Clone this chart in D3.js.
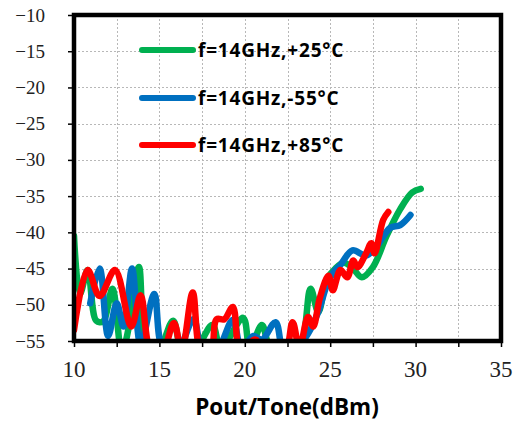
<!DOCTYPE html>
<html>
<head>
<meta charset="utf-8">
<script src="https://cdn.jsdelivr.net/npm/d3@7/dist/d3.min.js"></script>
<style>
  html, body { margin: 0; padding: 0; background: #fff; }
  svg { display: block; }
</style>
</head>
<body>
<svg id="chart" width="518" height="422"></svg>
<script>
// Pout/Tone sweep (dBm)
const xGreen = [10.0, 10.35, 10.8, 11.3, 11.7, 12.25, 12.8, 13.3, 13.8, 14.3, 14.9, 15.8, 16.3, 17.0, 18.1, 18.6, 19.9, 20.3, 21.0, 21.5, 22.3, 23.2, 23.85, 24.3, 24.8, 25.3, 25.8, 26.3, 26.85, 27.5, 28.3, 29.1, 29.8, 30.3];
const yGreen = [-40.5, -48.5, -45.2, -52.2, -52.3, -47.8, -56.5, -52.0, -44.8, -56.0, -56.5, -52.2, -56.0, -56.5, -52.8, -56.0, -51.8, -56.0, -52.8, -56.0, -56.5, -56.0, -47.8, -51.0, -46.5, -45.0, -44.2, -44.9, -46.2, -44.8, -40.5, -36.8, -34.5, -34.0];

const xBlue = [10.95, 11.5, 12.0, 12.5, 12.9, 13.4, 13.9, 14.7, 15.2, 16.0, 17.0, 17.5, 18.3, 19.3, 19.8, 20.5, 21.0, 21.8, 22.3, 23.0, 23.7, 24.3, 24.8, 25.2, 25.6, 26.3, 27.1, 27.7, 28.5, 29.1, 29.7];
const yBlue = [-49.8, -45.0, -54.3, -49.8, -53.0, -45.0, -55.5, -48.5, -56.0, -56.5, -52.0, -56.0, -56.5, -52.1, -56.0, -54.3, -54.8, -52.4, -56.5, -56.0, -54.0, -51.0, -47.3, -45.5, -44.5, -42.5, -43.2, -42.0, -39.4, -39.0, -37.6];

const xRed = [10.0, 10.8, 11.5, 12.4, 13.35, 13.9, 14.5, 15.1, 15.85, 16.3, 16.95, 17.45, 18.0, 18.35, 18.8, 19.3, 19.75, 20.6, 21.3, 22.3, 22.8, 23.2, 23.7, 24.0, 24.4, 24.9, 25.15, 25.6, 26.0, 26.35, 26.6, 27.1, 27.4, 27.6, 28.1, 28.4];
const yRed = [-53.5, -45.2, -48.8, -45.2, -53.0, -48.7, -56.5, -57.0, -52.5, -56.5, -48.3, -56.5, -56.5, -52.0, -52.0, -50.3, -56.5, -54.8, -57.0, -57.0, -52.4, -56.0, -51.7, -53.0, -49.0, -46.0, -48.0, -45.2, -46.2, -43.9, -44.8, -42.9, -41.5, -42.9, -38.3, -37.2];

const seriesNames = ["f=14GHz,+25°C", "f=14GHz,-55°C", "f=14GHz,+85°C"];
const seriesColors = ["#00B050", "#0070C0", "#FF0000"];

const xTicks = [10, 15, 20, 25, 30, 35];
const xGrid = [12.5, 15, 17.5, 20, 22.5, 25, 27.5, 30, 32.5];
const xMinor = [10, 12.5, 15, 17.5, 20, 22.5, 25, 27.5, 30, 32.5, 35];
const yTicks = [-10, -15, -20, -25, -30, -35, -40, -45, -50, -55];
const xTitle = "Pout/Tone(dBm)";

const series = [
  { name: seriesNames[0], color: seriesColors[0], pts: xGreen.map((x, i) => [x, yGreen[i]]) },
  { name: seriesNames[1], color: seriesColors[1], pts: xBlue.map((x, i) => [x, yBlue[i]]) },
  { name: seriesNames[2], color: seriesColors[2], pts: xRed.map((x, i) => [x, yRed[i]]) }
];

const L = 74, R = 501, T = 15, B = 341;
const svg = d3.select("#chart");
const x = d3.scaleLinear().domain([10, 35]).range([L, R]);
const y = d3.scaleLinear().domain([-55, -10]).range([B, T]);

svg.append("rect").attr("width", 518).attr("height", 422).attr("fill", "#fff");

// grid
const grid = svg.append("g").attr("stroke", "#b8b8b8").attr("stroke-width", 1).attr("stroke-dasharray", "2,2");
grid.selectAll("line.gx").data(xGrid).join("line")
  .attr("x1", d => Math.round(x(d)) + 0.5).attr("x2", d => Math.round(x(d)) + 0.5)
  .attr("y1", T).attr("y2", B);
grid.selectAll("line.gy").data(yTicks.filter(v => v > -55 && v < -10)).join("line")
  .attr("y1", d => Math.round(y(d)) + 0.5).attr("y2", d => Math.round(y(d)) + 0.5)
  .attr("x1", L).attr("x2", R);

// data lines
svg.append("clipPath").attr("id", "plotclip").append("rect")
  .attr("x", L).attr("y", T).attr("width", R - L).attr("height", B - T);
const line = d3.line().x(d => x(d[0])).y(d => y(d[1])).curve(d3.curveCatmullRom.alpha(0.5));
svg.append("g").attr("clip-path", "url(#plotclip)")
  .selectAll("path").data(series).join("path")
  .attr("d", d => line(d.pts))
  .attr("fill", "none").attr("stroke", d => d.color)
  .attr("stroke-width", 6.5).attr("stroke-linejoin", "round").attr("stroke-linecap", "round");

// axes
const xAxis = d3.axisBottom(x).tickValues(xMinor).tickSize(6).tickFormat("");
svg.append("g").attr("transform", `translate(0,${B})`).call(xAxis)
  .call(g => g.select(".domain").remove())
  .call(g => g.selectAll("line").attr("stroke", "#000").attr("stroke-width", 1.5));
const yAxis = d3.axisLeft(y).tickValues(yTicks).tickSize(6).tickFormat("");
svg.append("g").attr("transform", `translate(${L},0)`).call(yAxis)
  .call(g => g.select(".domain").remove())
  .call(g => g.selectAll("line").attr("stroke", "#000").attr("stroke-width", 1.5));

// frame
svg.append("rect").attr("x", L).attr("y", T).attr("width", R - L).attr("height", B - T)
  .attr("fill", "none").attr("stroke", "#000").attr("stroke-width", 4.5);

// tick labels
svg.append("g").selectAll("text").data(yTicks).join("text")
  .attr("x", 45).attr("y", d => y(d) + 6.5)
  .attr("text-anchor", "end")
  .attr("font-family", "'Liberation Serif', 'DejaVu Serif', serif")
  .attr("font-size", 19).attr("fill", "#222")
  .text(d => d3.format("")(d).replace("-", "\u2212"));
svg.append("g").selectAll("text").data(xTicks).join("text")
  .attr("x", d => x(d)).attr("y", 377)
  .attr("text-anchor", "middle")
  .attr("font-family", "'Liberation Serif', 'DejaVu Serif', serif")
  .attr("font-size", 23).attr("fill", "#222")
  .text(d => d);

svg.append("text").attr("x", 287).attr("y", 415).attr("text-anchor", "middle")
  .attr("font-family", "'Open Sans', Lato, sans-serif").attr("font-weight", "bold")
  .attr("font-size", 22.5).attr("fill", "#000").text(xTitle);

// legend
const legY = [50, 98, 145];
const leg = svg.append("g").selectAll("g").data(series).join("g")
  .attr("transform", (d, i) => `translate(0,${legY[i]})`);
leg.append("line").attr("x1", 142).attr("x2", 193).attr("y1", 0).attr("y2", 0)
  .attr("stroke", d => d.color).attr("stroke-width", 6).attr("stroke-linecap", "round");
leg.append("text").attr("x", 198).attr("y", 7)
  .attr("font-family", "'Open Sans', Lato, sans-serif").attr("font-weight", "bold")
  .attr("font-size", 19).attr("letter-spacing", 0.8).attr("fill", "#000").text(d => d.name);
</script>
</body>
</html>
